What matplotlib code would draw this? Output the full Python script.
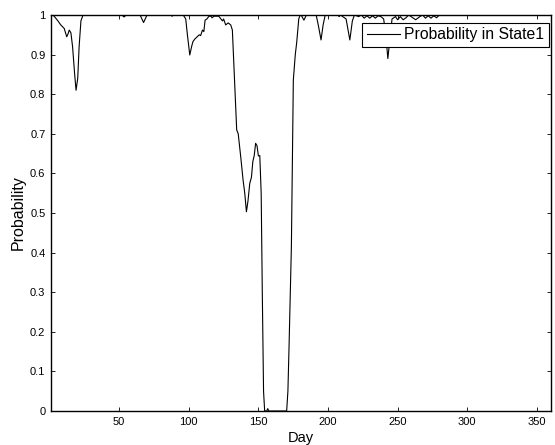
import matplotlib
matplotlib.use("Agg")
import matplotlib.pyplot as plt
from matplotlib.ticker import FuncFormatter

plt.rcParams['font.family'] = ['Liberation Sans', 'DejaVu Sans']

days = [1, 3, 6, 8, 10.5, 12.3, 13.2, 14.1, 15.3, 16.5, 18, 19, 20.2, 21.2, 22.5, 24,
        52, 53.5, 55, 65, 67.5, 70, 87, 88, 89,
        96, 97.8, 99, 100.7, 102, 103, 104.5, 106, 107.5, 108.5, 109.8, 110.8, 111.7,
        113, 114.5, 116, 116.7, 118, 121.5, 124.2, 125, 126.5, 128.3, 130.1, 131.3,
        132.3, 133.2, 134.4, 135.5, 137.3, 139, 140.2, 141.4, 142.5, 143.8, 145, 146,
        147, 148, 149, 150, 151, 152, 152.8, 153.7, 154.5, 156, 156.7, 157.5,
        170.3, 171.2, 172, 173.7, 175.1, 176.5, 177.5, 179, 180, 181, 182.7, 184.5,
        191.5, 193, 195, 196.5, 198, 207, 208, 209, 213, 215.7, 217.5, 219,
        222, 224, 226, 228, 230, 232, 234, 236, 238, 240, 241.5, 243, 244.5, 246,
        248.5, 250, 252, 254, 256, 258, 261, 263, 266, 268, 270, 272, 274, 276, 278,
        280, 360]
prob = [1.0, 0.998, 0.985, 0.975, 0.966, 0.945, 0.952, 0.962, 0.955, 0.92, 0.85, 0.81,
        0.84, 0.92, 0.985, 1.0,
        1.0, 0.995, 1.0, 1.0, 0.981, 1.0, 1.0, 0.997, 1.0,
        1.0, 0.99, 0.95, 0.899, 0.92, 0.933, 0.94, 0.945, 0.95, 0.948, 0.962, 0.958, 0.987,
        0.99, 0.997, 0.997, 0.993, 0.997, 0.997, 0.985, 0.99, 0.975, 0.98, 0.975, 0.962,
        0.88, 0.80, 0.71, 0.70, 0.642, 0.583, 0.55, 0.503, 0.53, 0.575, 0.59, 0.63,
        0.645, 0.676, 0.67, 0.644, 0.645, 0.55, 0.30, 0.05, 0.0, 0.0, 0.006, 0.0,
        0.0, 0.05, 0.16, 0.415, 0.836, 0.90, 0.93, 0.99, 1.0, 0.998, 0.987, 1.0,
        1.0, 0.975, 0.937, 0.975, 1.0, 1.0, 0.996, 1.0, 0.99, 0.937, 0.985, 1.0,
        0.996, 1.0, 0.992, 0.998, 0.992, 0.998, 0.992, 0.998, 0.996, 0.99, 0.95, 0.89, 0.94, 0.99,
        0.996, 0.988, 0.996, 0.988, 0.993, 1.0, 0.993, 0.988, 0.996, 1.0, 0.992, 0.998, 0.992, 0.998, 0.993,
        1.0, 1.0]

xticks = [50, 100, 150, 200, 250, 300, 350]
yticks = [0, 0.1, 0.2, 0.3, 0.4, 0.5, 0.6, 0.7, 0.8, 0.9, 1]
series_label = "Probability in State1"

fig = plt.figure(figsize=(5.55, 4.45), dpi=100)
ax = fig.add_axes([51/555, 34/445, 499.7/555, 396/445])
ax.plot(days, prob, color='black', linewidth=0.8, label=series_label)
ax.set_xlim(1, 360)
ax.set_ylim(0, 1)
ax.set_xticks(xticks)
ax.set_yticks(yticks)
ax.yaxis.set_major_formatter(FuncFormatter(lambda v, p: f"{v:g}"))
ax.tick_params(direction='in', length=3, width=0.6, labelsize=8, pad=4,
               top=True, right=True, colors='black')
for s in ax.spines.values():
    s.set_linewidth(1.0)
    s.set_color('black')
ax.set_xlabel("Day", fontsize=10.5, labelpad=3)
ax.set_ylabel("Probability", fontsize=11.5, labelpad=3)
leg = ax.legend(loc='upper right', bbox_to_anchor=(0.997, 0.981), borderaxespad=0,
                fontsize=11.3, fancybox=False, framealpha=1, edgecolor='black',
                handlelength=2.1, handletextpad=0.3, borderpad=0.3)
leg.get_frame().set_linewidth(0.8)
fig.savefig("out.png", dpi=100)
